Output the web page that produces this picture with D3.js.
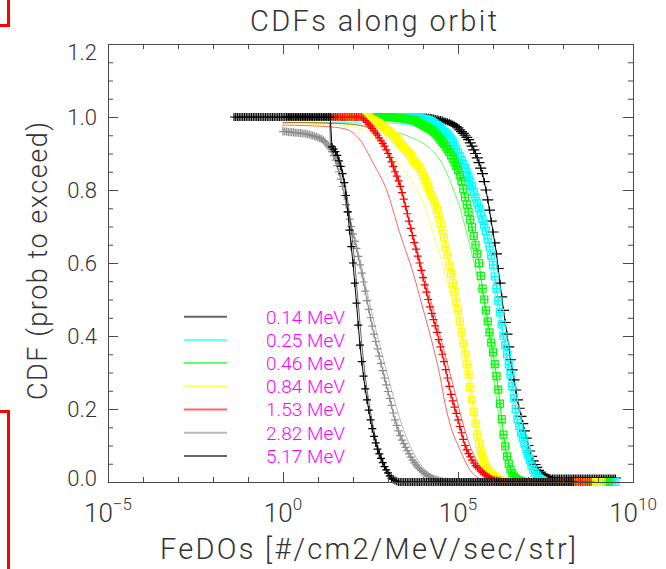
<!DOCTYPE html>
<html>
<head>
<meta charset="utf-8">
<script src="https://cdn.jsdelivr.net/npm/d3@7"></script>
<style>
  html, body { margin: 0; padding: 0; background: #ffffff; }
  svg text { font-family: Roboto, "Liberation Sans", Arial, sans-serif; font-weight: 300; }
</style>
</head>
<body>
<svg id="chart" width="666" height="569"></svg>
<script>
// ---- energy channels (legend order) ----
const channels = ["0.14 MeV", "0.25 MeV", "0.46 MeV", "0.84 MeV", "1.53 MeV", "2.82 MeV", "5.17 MeV"];
const channelColors = ["#000000", "#00ffff", "#00ff00", "#ffff00", "#ff0000", "#8c8c8c", "#000000"];

// CDF sampled on a log10 flux grid of 0.05 decade bins; firstBin = exponent of the first bin
const binStep = 0.05;
const firstBin = [0.1, 2.7, 2.2, 1.7, 1.3, 0.0, -1.4];

const cdf014 = [
  1,1,1,1,1,1,1,1,1,1, 1,1,1,1,1,1,1,1,1,1,
  1,1,1,1,1,1,1,1,1,1, 1,1,1,1,1,1,1,1,1,1,
  1,1,1,1,1,1,1,1,1,1, 1,1,1,1,1,1,1,1,1,1,
  1,1,1,1,1,1,1,1,1,1, 1,1,1,1,1,1,1,1,1,1,
  1,
  0.9995,0.999,0.998,0.997,0.996,0.995,0.994,0.993,0.9915,0.99,
  0.9885,0.987,0.985,0.983,0.9805,0.978,0.974,0.97,0.965,0.96,
  0.955,0.95,0.944,0.938,0.929,0.92,0.91,0.9,0.888,0.875,
  0.86,0.845,0.823,0.8,0.773,0.745,0.715,0.685,0.655,0.625,
  0.585,0.545,0.507,0.47,0.437,0.405,0.37,0.335,0.307,0.28,
  0.252,0.225,0.202,0.18,0.16,0.14,0.12,0.1,0.085,0.07,
  0.058,0.048,0.04,0.032,0.027,0.022,0.019,0.016,0.0145,0.013,
  0.011,0.011,0.011,0.011,0.011,0.011,0.011,0.011,0.011,0.011,
  0.011,0.011,0.011,0.011,0.011,0.011,0.011,0.011,0.011,0.011,
  0.011,0.011,0.011,0.011,0.011,0.011,0.011,0.011,0.011,0.011,
  0.011,0.011,0.011,0.011,0.011,0.011,0.011,0.011
];
const cdf025 = [
  1,1,1,1,1,1,1,1,1,1, 1,1,1,1,1,1,1,1,1,1,
  0.999,0.9985,0.998,0.9975,0.997,0.996,0.995,0.994,0.993,0.9915,
  0.99,0.988,0.985,0.982,0.978,0.974,0.97,0.965,0.96,0.957,
  0.953,0.947,0.94,0.931,0.922,0.912,0.902,0.892,0.882,0.871,
  0.86,0.848,0.836,0.823,0.81,0.795,0.78,0.765,0.75,0.735,
  0.72,0.705,0.688,0.667,0.645,0.62,0.595,0.563,0.53,0.497,
  0.465,0.432,0.4,0.375,0.35,0.322,0.295,0.262,0.23,0.2,
  0.172,0.153,0.135,0.12,0.105,0.09,0.075,0.06,0.045,0.034,
  0.025,0.018,0.012,0.008,0.005,0.002,
  0,0,0,0,0,0,0,0,0,0, 0,0,0,0,0,0,0,0,0,0,
  0,0,0,0,0,0,0,0,0,0, 0,0,0,0,0,0,0,0,0,0, 0
];
const cdf046 = [
  1,1,1,1,1,1,1,1,1,1, 1,1,1,1,1,1,1,1,
  0.999,0.9985,0.998,0.9975,0.997,0.9965,0.996,0.9955,0.995,0.9945,
  0.994,0.993,0.992,0.99,0.988,0.986,0.984,0.981,0.978,0.975,
  0.972,0.97,0.967,0.964,0.96,0.955,0.95,0.944,0.938,0.932,
  0.926,0.919,0.912,0.904,0.895,0.886,0.876,0.866,0.855,0.841,
  0.825,0.803,0.78,0.76,0.74,0.719,0.698,0.674,0.65,0.625,
  0.6,0.565,0.53,0.5,0.47,0.44,0.41,0.382,0.355,0.323,
  0.29,0.253,0.215,0.172,0.13,0.098,0.07,0.05,0.035,0.024,
  0.015,0.01,0.006,0.004,0.002,0.001,
  0,0,0,0,0,0,0,0,0,0, 0,0,0,0,0,0,0,0,0,0,
  0,0,0,0,0,0,0,0,0,0, 0,0,0,0,0,0,0,0,0,0,
  0,0,0,0,0,0,0,0,0
];
const cdf084 = [
  1,1,1,1,1,1,1,1,1,1, 1,1,1,1,1,1,
  0.995,0.9925,0.99,0.9875,0.985,0.982,0.978,0.974,0.97,0.966,
  0.962,0.958,0.953,0.948,0.943,0.938,0.933,0.928,0.922,0.916,
  0.91,0.905,0.9,0.893,0.885,0.879,0.872,0.866,0.86,0.85,
  0.84,0.83,0.82,0.809,0.797,0.786,0.775,0.76,0.745,0.728,
  0.71,0.69,0.67,0.645,0.62,0.595,0.57,0.545,0.52,0.495,
  0.47,0.44,0.41,0.38,0.35,0.322,0.295,0.26,0.225,0.192,
  0.16,0.13,0.105,0.086,0.07,0.057,0.045,0.037,0.03,0.024,
  0.018,0.014,0.01,0.007,0.005,0.003,0.002,0.001,
  0,0,0,0,0,0,0,0,0,0, 0,0,0,0,0,0,0,0,0,0,
  0,0,0,0,0,0,0,0,0,0, 0,0,0,0,0,0,0,0,0,0,
  0,0,0,0,0,0,0,0,0,0, 0,0,0,0,0
];
const cdf153 = [
  1,1,1,1,1,1,1,1,1,1, 1,1,1,1,1,1,1,1,1,1,
  0.995,0.99,0.985,0.98,0.975,0.969,0.962,0.956,0.95,0.943,
  0.935,0.928,0.92,0.91,0.9,0.889,0.877,0.864,0.85,0.838,
  0.825,0.81,0.793,0.775,0.755,0.735,0.715,0.695,0.675,0.656,
  0.638,0.619,0.6,0.58,0.56,0.54,0.52,0.5,0.48,0.462,
  0.445,0.428,0.41,0.39,0.37,0.35,0.33,0.308,0.285,0.262,
  0.24,0.222,0.205,0.188,0.17,0.152,0.135,0.117,0.1,0.088,
  0.078,0.069,0.06,0.052,0.045,0.04,0.035,0.03,0.026,0.022,
  0.018,0.015,0.012,0.009,0.007,0.005,0.004,0.003,0.002,0.001,
  0,0,0,0,0,0,0,0,0,0, 0,0,0,0,0,0,0,0,0,0,
  0,0,0,0,0,0,0,0,0,0, 0,0,0,0,0,0,0,0,0,0,
  0,0,0,0,0,0,0,0,0,0, 0
];
const cdf282 = [
  0.96,0.96,0.96,0.959,0.958,0.958,0.958,0.957,0.957,0.956,
  0.956,0.955,0.955,0.954,0.953,0.952,0.95,0.949,0.947,0.946,
  0.944,0.942,0.94,0.936,0.932,0.926,0.92,0.913,0.905,0.894,
  0.882,0.867,0.85,0.83,0.81,0.785,0.76,0.74,0.72,0.7,
  0.68,0.66,0.64,0.618,0.595,0.572,0.548,0.523,0.497,0.473,
  0.45,0.427,0.405,0.385,0.365,0.345,0.325,0.305,0.285,0.266,
  0.248,0.229,0.21,0.189,0.17,0.155,0.14,0.127,0.115,0.105,
  0.095,0.086,0.077,0.068,0.06,0.053,0.047,0.041,0.036,0.031,
  0.027,0.023,0.02,0.017,0.014,0.011,0.009,0.007,0.006,0.004,
  0.003,0.002,0.001,0.001,
  0,0,0,0,0,0,0,0,0,0, 0,0,0,0,0,0,0,0,0,0,
  0,0,0,0,0,0,0,0,0,0, 0,0,0,0,0,0,0,0,0,0,
  0,0,0,0,0,0,0,0,0,0, 0,0,0,0,0,0,0,0,0,0,
  0,0,0,0,0,0,0
];
const cdf517 = [
  1,1,1,1,1,1,1,1,1,1, 1,1,1,1,1,1,1,1,1,1,
  1,1,1,1,1,1,1,1,1,1, 1,1,1,1,1,1,1,1,1,1,
  1,1,1,1,1,1,1,1,1,1, 1,1,1,1,1,1,
  0.918,0.912,0.905,0.895,0.88,0.865,0.845,0.82,0.785,0.74,
  0.69,0.645,0.6,0.545,0.49,0.43,0.375,0.33,0.29,0.255,
  0.225,0.197,0.17,0.146,0.125,0.107,0.09,0.077,0.065,0.053,
  0.042,0.033,0.025,0.017,0.01,0.007,0.004,0.002,
  0,0,0,0,0,0,0,0,0,0, 0,0,0,0,0,0,0,0,0,0,
  0,0,0,0,0,0,0,0,0,0, 0,0,0,0,0,0,0,0,0,0,
  0,0,0,0,0,0,0,0,0,0, 0,0,0,0,0,0,0,0,0,0,
  0,0,0,0,0,0,0,0,0,0, 0,0,0,0,0,0,0,0,0,0,
  0,0,0,0,0,0,0,0,0,0, 0,0,0,0,0,0,0,0,0,0,
  0
];
const cdfSeries = [cdf014, cdf025, cdf046, cdf084, cdf153, cdf282, cdf517];

// companion curves along the orbit: [log10 flux, cdf]
const thin025 = [[0.0,0.985],[2.0,0.985],[3.0,0.983],[3.8,0.975],[4.3,0.96],[4.68,0.937],[5.06,0.873],[5.25,0.818],[5.44,0.764],[5.65,0.7],[5.85,0.62],[6.0,0.55],[6.15,0.46],[6.3,0.37],[6.45,0.28],[6.6,0.19],[6.75,0.12],[6.9,0.07],[7.05,0.035],[7.2,0.015],[7.35,0.004],[7.5,0]];
const thin046 = [[0.0,0.985],[2.0,0.98],[2.68,0.967],[3.34,0.955],[3.72,0.942],[4.2,0.914],[4.49,0.882],[4.68,0.846],[4.87,0.8],[5.03,0.76],[5.25,0.681],[5.53,0.572],[5.77,0.471],[5.91,0.371],[6.06,0.261],[6.15,0.19],[6.25,0.12],[6.35,0.07],[6.5,0.03],[6.65,0.01],[6.8,0.002],[7.0,0]];
const thin084a = [[0.0,0.982],[1.34,0.978],[2.2,0.969],[2.77,0.928],[3.15,0.891],[3.53,0.846],[3.82,0.8],[4.03,0.76],[4.29,0.681],[4.58,0.59],[4.87,0.48],[5.11,0.38],[5.25,0.298],[5.39,0.2],[5.5,0.14],[5.65,0.08],[5.8,0.04],[5.95,0.015],[6.1,0.004],[6.3,0]];
const thin084b = [[0.0,0.99],[2.0,0.99],[2.7,0.985],[3.2,0.96],[3.7,0.9],[4.2,0.81],[4.5,0.72],[4.8,0.59],[5.0,0.49],[5.2,0.37],[5.4,0.25],[5.55,0.16],[5.7,0.09],[5.85,0.045],[6.0,0.02],[6.2,0.006],[6.4,0]];
const thin153a = [[0.0,0.978],[1.34,0.973],[1.82,0.966],[2.2,0.937],[2.58,0.873],[2.96,0.8],[3.34,0.681],[3.72,0.572],[4.01,0.471],[4.29,0.371],[4.49,0.288],[4.63,0.215],[4.8,0.15],[5.06,0.088],[5.34,0.033],[5.6,0.01],[5.9,0.002],[6.2,0]];
const thin153b = [[0.0,0.985],[1.5,0.983],[2.3,0.975],[2.7,0.95],[2.96,0.918],[3.25,0.846],[3.44,0.782],[3.7,0.68],[4.0,0.575],[4.3,0.47],[4.6,0.36],[4.9,0.25],[5.1,0.175],[5.3,0.11],[5.5,0.065],[5.7,0.035],[5.9,0.018],[6.1,0.007],[6.3,0.002],[6.5,0]];
const thin282 = [[0.0,0.985],[0.01,0.964],[0.67,0.951],[1.15,0.928],[1.44,0.891],[1.63,0.836],[1.8,0.77],[2.0,0.69],[2.2,0.61],[2.45,0.5],[2.75,0.38],[3.05,0.27],[3.35,0.17],[3.6,0.105],[3.85,0.06],[4.1,0.03],[4.4,0.012],[4.7,0.003],[5.0,0]];
const thin517 = [[1.34,0.985],[1.36,0.92],[1.55,0.9],[1.7,0.85],[1.85,0.77],[1.95,0.69],[2.05,0.6],[2.15,0.49],[2.25,0.38],[2.35,0.29],[2.47,0.21],[2.6,0.14],[2.75,0.085],[2.9,0.045],[3.05,0.02],[3.2,0.006],[3.4,0]];
const thinSeries = [[], [thin025], [thin046], [thin084a, thin084b], [thin153a, thin153b], [thin282], [thin517]];

// marker kinds per channel
const markerKinds = [["plusWide"], ["square", "plus"], ["square", "plus"], ["square", "plus"], ["plus"], ["plus"], ["plus"]];

// axis ticks and labels
const xMajorExponents = [-5, 0, 5, 10];
const xMinorExponents = [-5,-4,-3,-2,-1,0,1,2,3,4,5,6,7,8,9,10];
const yMajorValues = [0, 0.2, 0.4, 0.6, 0.8, 1.0, 1.2];
const yTickLabels = ["0.0", "0.2", "0.4", "0.6", "0.8", "1.0", "1.2"];
const yMinorValues = [0,0.05,0.1,0.15,0.2,0.25,0.3,0.35,0.4,0.45,0.5,0.55,0.6,0.65,0.7,0.75,0.8,0.85,0.9,0.95,1.0,1.05,1.1,1.15,1.2];

const titleText = "CDFs along orbit";
const xTitle = "FeDOs [#/cm2/MeV/sec/str]";
const yTitle = "CDF (prob to exceed)";

// ---- layout ----
const svg = d3.select("#chart");
const plot = { left: 108, right: 633, top: 44, bottom: 482 };
const x = d3.scaleLog().domain([1e-5, 1e10]).range([plot.left, plot.right]);
const y = d3.scaleLinear().domain([0, 1.2]).range([plot.bottom, plot.top]);
const axisColor = "#4a4a4a";
const textColor = "#333333";

// frame markers at the left edge
svg.append("path").attr("d", "M0,25.5H8.5V0").attr("fill", "none").attr("stroke", "#ff0000").attr("stroke-width", 3);
svg.append("path").attr("d", "M0,411.5H8.5V569").attr("fill", "none").attr("stroke", "#ff0000").attr("stroke-width", 3);

// ---- curves ----
const lx = e => x(Math.pow(10, e));
const curveLine = d3.line().x(d => lx(d[0])).y(d => y(d[1]));
const thinLine = d3.line().x(d => lx(d[0])).y(d => y(d[1])).curve(d3.curveMonotoneX);

function markerPath(pts, kind) {
  let p = "";
  pts.forEach(d => {
    const px = lx(d[0]), py = y(d[1]);
    if (kind === "plus") p += `M${px-4},${py}H${px+4}M${px},${py-4}V${py+4}`;
    else if (kind === "plusWide") p += `M${px-5.5},${py}H${px+5.5}M${px},${py-3.5}V${py+3.5}`;
    else if (kind === "square") p += `M${px-3.5},${py-3.5}h7v7h-7Z`;
  });
  return p;
}

const curvesG = svg.append("g");
channels.forEach((name, i) => {
  const g = curvesG.append("g");
  const col = channelColors[i];
  thinSeries[i].forEach(t => {
    g.append("path").attr("d", thinLine(t)).attr("fill", "none")
      .attr("stroke", col).attr("stroke-opacity", 0.6).attr("stroke-width", 1);
  });
  const pts = cdfSeries[i].map((v, k) => [firstBin[i] + k * binStep, v]);
  g.append("path").attr("d", curveLine(pts)).attr("fill", "none")
    .attr("stroke", col).attr("stroke-width", 1);
  markerKinds[i].forEach(kind => {
    g.append("path").attr("d", markerPath(pts, kind)).attr("fill", "none")
      .attr("stroke", col).attr("stroke-width", 1.2);
  });
});

// ---- axes (ticks point inward on all four sides) ----
function styleAxis(g) {
  g.selectAll("path, line").attr("stroke", axisColor);
  g.selectAll("text").remove();
}
const majX = xMajorExponents.map(e => Math.pow(10, e));
const minX = xMinorExponents.map(e => Math.pow(10, e));
svg.append("g").attr("transform", `translate(0,${plot.bottom})`)
  .call(d3.axisBottom(x).tickValues(minX).tickSize(-5).tickSizeOuter(0)).call(styleAxis);
svg.append("g").attr("transform", `translate(0,${plot.bottom})`)
  .call(d3.axisBottom(x).tickValues(majX).tickSize(-10).tickSizeOuter(0)).call(styleAxis);
svg.append("g").attr("transform", `translate(0,${plot.top})`)
  .call(d3.axisTop(x).tickValues(minX).tickSize(-5).tickSizeOuter(0)).call(styleAxis);
svg.append("g").attr("transform", `translate(0,${plot.top})`)
  .call(d3.axisTop(x).tickValues(majX).tickSize(-10).tickSizeOuter(0)).call(styleAxis);
svg.append("g").attr("transform", `translate(${plot.left},0)`)
  .call(d3.axisLeft(y).tickValues(yMinorValues).tickSize(-5).tickSizeOuter(0)).call(styleAxis);
svg.append("g").attr("transform", `translate(${plot.left},0)`)
  .call(d3.axisLeft(y).tickValues(yMajorValues).tickSize(-10).tickSizeOuter(0)).call(styleAxis);
svg.append("g").attr("transform", `translate(${plot.right},0)`)
  .call(d3.axisRight(y).tickValues(yMinorValues).tickSize(-5).tickSizeOuter(0)).call(styleAxis);
svg.append("g").attr("transform", `translate(${plot.right},0)`)
  .call(d3.axisRight(y).tickValues(yMajorValues).tickSize(-10).tickSizeOuter(0)).call(styleAxis);

// y tick labels
yMajorValues.forEach((v, i) => {
  let dy = 0;
  if (i === yMajorValues.length - 1) dy = 8;
  if (i === 0) dy = -4;
  svg.append("text").attr("x", 97).attr("y", y(v) + dy)
    .attr("text-anchor", "end").attr("dominant-baseline", "central")
    .attr("fill", textColor).style("font-size", "22px").text(yTickLabels[i]);
});

// x tick labels: powers of ten
xMajorExponents.forEach(e => {
  const t = svg.append("text").attr("x", x(Math.pow(10, e))).attr("y", 522)
    .attr("text-anchor", "middle").attr("fill", textColor).style("font-size", "26px");
  t.append("tspan").text("10");
  t.append("tspan").attr("dy", -12).style("font-size", "17px")
    .text(e < 0 ? "\u2212" + (-e) : String(e));
});

// titles
svg.append("text").attr("x", 250).attr("y", 31).attr("fill", textColor)
  .attr("textLength", 247).attr("lengthAdjust", "spacing")
  .style("font-size", "29px").text(titleText);
svg.append("text").attr("x", 160).attr("y", 559).attr("fill", textColor)
  .attr("textLength", 416).attr("lengthAdjust", "spacing")
  .style("font-size", "29px").text(xTitle);
svg.append("text").attr("transform", "translate(47,400) rotate(-90)")
  .attr("x", 0).attr("y", 0).attr("fill", textColor)
  .attr("textLength", 278).attr("lengthAdjust", "spacing")
  .style("font-size", "27px").text(yTitle);

// ---- legend ----
const legend = svg.append("g");
channels.forEach((name, i) => {
  const ry = 316.7 + i * 23.2;
  legend.append("line").attr("x1", 184).attr("x2", 227).attr("y1", ry).attr("y2", ry)
    .attr("stroke", channelColors[i]).attr("stroke-opacity", 0.6).attr("stroke-width", 2);
  legend.append("text").attr("x", 266).attr("y", ry + 6.8)
    .attr("textLength", 79).attr("lengthAdjust", "spacing")
    .attr("fill", "#ff00ff").style("font-size", "19px").text(name);
});
</script>
</body>
</html>
